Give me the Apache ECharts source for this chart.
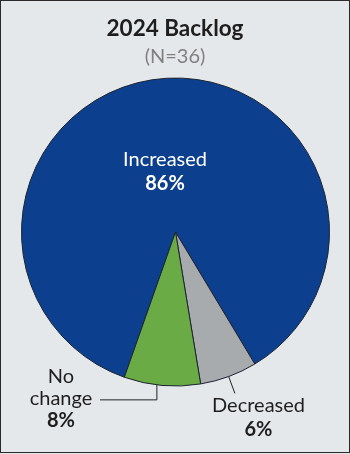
<!DOCTYPE html>
<html>
<head>
<meta charset="utf-8">
<script src="https://cdn.jsdelivr.net/npm/echarts@6/dist/echarts.min.js"></script>
<style>
  html, body { margin: 0; padding: 0; background: #e5e8eb; }
  #wrap { position: relative; width: 350px; height: 454px; }
  #chart { position: absolute; left: 0; top: 0; width: 350px; height: 454px; }
  #frame { position: absolute; left: 0; top: 0; width: 350px; height: 453px; box-sizing: border-box;
           border: 1.5px solid #2a2a2a; pointer-events: none; }
</style>
</head>
<body>
<div id="wrap">
  <div id="chart"></div>
  <div id="frame"></div>
</div>
<script>
// Survey responses: change in backlog, share of firms (%)
const categories = ['Increased', 'Decreased', 'No change'];
const shares = [86, 6, 8];
const sliceColors = ['#0c408f', '#a8abae', '#6aab46'];
const titleText = '2024 Backlog';
const sampleText = '(N=36)';

// pie geometry (pixels)
const cx = 175.5, cy = 232, R = 154;
const START_ANGLE = 250.6; // echarts degrees, counter-clockwise from 3 o'clock

const total = shares.reduce((a, b) => a + b, 0);
// angle clockwise from 12 o'clock at fraction f through slice i
function sliceAngle(i, f) {
  let acc = 0;
  for (let j = 0; j < i; j++) acc += shares[j];
  return (90 - START_ANGLE) + (acc + shares[i] * f) / total * 360;
}
function polar(angDeg, r) {
  const a = angDeg * Math.PI / 180;
  return [cx + r * Math.sin(a), cy - r * Math.cos(a)];
}

const font = 'Lato, "Noto Sans", sans-serif';

// label anchors and leader lines
function layoutLabel(params) {
  const i = params.dataIndex;
  if (i === 0) {
    return { x: cx - 0.068 * R, y: cy - 0.395 * R, align: 'center', verticalAlign: 'middle' };
  }
  if (i === 1) {
    const a = sliceAngle(1, 0.5);
    const p0 = polar(a, 0.915 * R);
    const p1 = polar(a, 1.117 * R);
    return { x: 258.5, y: 418, align: 'center', verticalAlign: 'middle',
             labelLinePoints: [p0, p1, p1] };
  }
  const a = sliceAngle(2, 0.59);
  const p0 = polar(a, 0.915 * R);
  const yTurn = cy + 1.09 * R;
  return { x: 61, y: 398.5, align: 'center', verticalAlign: 'middle',
           labelLinePoints: [p0, [p0[0], yTurn], [100, yTurn]] };
}

const data = categories.map((name, i) => {
  const inside = i === 0;
  return {
    name: name,
    value: shares[i],
    itemStyle: { color: sliceColors[i] },
    label: inside
      ? { position: 'inside', rich: {
            n: { color: '#ffffff', fontSize: 20, fontFamily: font, lineHeight: 24 },
            p: { color: '#ffffff', fontSize: 20, fontWeight: 'bold', fontFamily: font, lineHeight: 24 } } }
      : { position: 'outside', rich: {
            n: { color: '#1e1e1e', fontSize: 20, fontFamily: font, lineHeight: i === 2 ? 22 : 24 },
            p: { color: '#1e1e1e', fontSize: 20, fontWeight: 'bold', fontFamily: font, lineHeight: i === 2 ? 22 : 24 } } },
    labelLine: { show: !inside }
  };
});

const chart = echarts.init(document.getElementById('chart'), null, { renderer: 'canvas' });
chart.setOption({
  backgroundColor: '#e5e8eb',
  animation: false,
  title: [
    { text: titleText, left: 'center', top: 12,
      textStyle: { fontFamily: font, fontSize: 22.5, fontWeight: 'bold', color: '#1e1e1e' } },
    { text: sampleText, left: 'center', top: 42,
      textStyle: { fontFamily: font, fontSize: 20, fontWeight: 'normal', color: '#808080' } }
  ],
  series: [{
    type: 'pie',
    center: [cx, cy],
    radius: [0, R],
    startAngle: START_ANGLE,
    clockwise: true,
    avoidLabelOverlap: false,
    silent: true,
    itemStyle: { borderColor: '#1c2330', borderWidth: 1 },
    label: {
      show: true,
      formatter: p => '{n|' + p.name.split(' ').join('}\n{n|') + '}\n{p|' + p.value + '%}'
    },
    labelLine: { show: true, showAbove: true, length: 10, length2: 10,
                 lineStyle: { color: '#222222', width: 1 } },
    labelLayout: layoutLabel,
    emphasis: { disabled: true },
    data: data
  }]
});
</script>
</body>
</html>
